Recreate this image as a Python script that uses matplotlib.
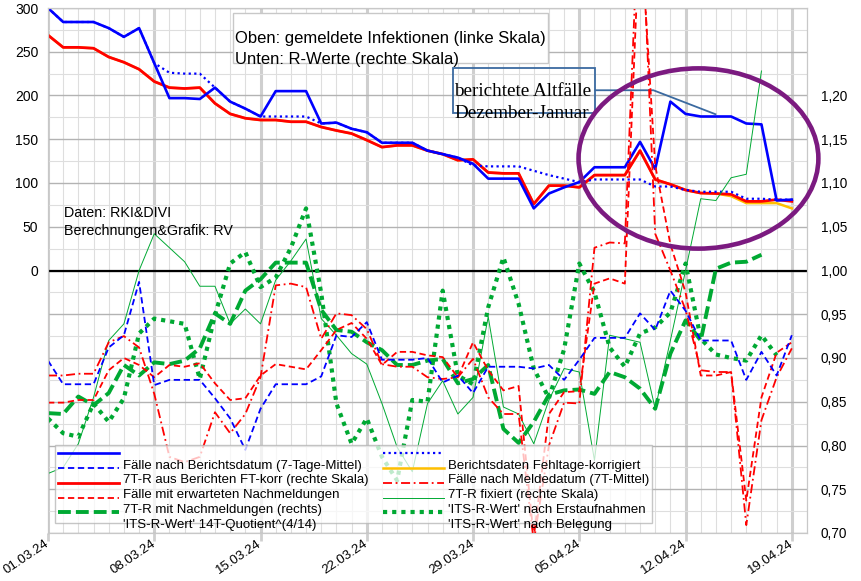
import numpy as np
import matplotlib
matplotlib.use("Agg")
import matplotlib.pyplot as plt
import matplotlib.transforms as mtransforms
from matplotlib.patches import Ellipse, Rectangle
from matplotlib.lines import Line2D
from matplotlib.ticker import MultipleLocator, FuncFormatter

plt.rcParams['font.family'] = ['Liberation Sans', 'DejaVu Sans']

# Tage ab 01.03.24
tage = np.arange(50)
datum_pos = [0, 7, 14, 21, 28, 35, 42, 49]
datum_txt = ['01.03.24', '08.03.24', '15.03.24', '22.03.24',
             '29.03.24', '05.04.24', '12.04.24', '19.04.24']

# Faelle (linke Skala)
faelle_bericht = [300, 284, 284, 284, 277, 267, 277, 237, 197, 197,
                  196, 209, 193, 185, 176, 205, 205, 205, 168, 169,
                  162, 158, 146, 146, 146, 137, 133, 129, 122, 105,
                  105, 105, 71, 88, 95, 101, 118, 118, 118, 147,
                  116, 193, 179, 176, 176, 176, 168, 167, 80, 81]
faelle_fehltage = [300, 284, 284, 284, 277, 267, 277, 237, 226, 225,
                   225, 209, 193, 185, 176, 176, 176, 176, 168, 169,
                   162, 158, 146, 146, 146, 137, 133, 129, 120, 119,
                   119, 119, 114, 109, 105, 101, 104, 104, 104, 104,
                   96, 96, 92, 90, 90, 90, 82, 82, 81, 81]
faelle_nachmeld = [269, 255, 255, 254, 244, 238, 230, 216, 209, 208,
                   209, 191, 179, 174, 172, 172, 170, 170, 164, 160,
                   156.5, 149, 141, 143, 143, 137, 133, 126, 127, 112,
                   111, 111, 76, 97, 97, 95, 109, 109, 109, 137,
                   104, 98.5, 92, 88.5, 88, 87, 79, 79, 81, 79]
faelle_melde = [269, 255, 255, 254, 244, 238, 230, 216, 209, 208,
                209, 191, 179, 174, 172, 172, 170, 170, 164, 160,
                156.5, 149, 141, 143, 143, 137, 133, 126, 127, 112,
                111, 111, 76, 97, 97, 95, 109, 109, 109, 137,
                104, 98.5, 92, 88.5, 88, 85, 77, 77, 77, 71]

# R-Werte (rechte Skala)
r_bericht = [0.897, 0.870, 0.870, 0.870, 0.912, 0.926, 0.987, 0.869, 0.875, 0.875,
             0.875, 0.854, 0.831, 0.795, 0.842, 0.870, 0.870, 0.870, 0.879, 0.926,
             0.924, 0.941, 0.898, 0.898, 0.898, 0.900, 0.872, 0.880, 0.860, 0.890,
             0.890, 0.890, 0.888, 0.892, 0.875, 0.898, 0.923, 0.923, 0.923, 0.951,
             0.932, 0.977, 0.954, 0.920, 0.920, 0.920, 0.875, 0.907, 0.880, 0.926]
r_nachmeld = [0.849, 0.849, 0.852, 0.852, 0.886, 0.900, 0.892, 0.878, 0.892, 0.890,
              0.894, 0.871, 0.852, 0.854, 0.880, 0.893, 0.890, 0.887, 0.909, 0.932,
              0.940, 0.922, 0.892, 0.907, 0.907, 0.903, 0.901, 0.878, 0.918, 0.886,
              0.863, 0.868, 0.695, 0.836, 0.861, 0.862, 0.985, 0.991, 0.985, 1.40,
              1.12, 1.03, 0.975, 0.880, 0.880, 0.884, 0.737, 0.855, 0.906, 0.918]
r_fixiert = [0.880, 0.880, 0.882, 0.882, 0.918, 0.925, 0.912, 0.859, 0.787, 0.781,
             0.787, 0.838, 0.814, 0.836, 0.878, 0.983, 0.985, 0.981, 0.922, 0.951,
             0.949, 0.933, 0.893, 0.890, 0.890, 0.878, 0.876, 0.878, 0.899, 0.855,
             0.836, 0.836, 0.690, 0.800, 0.849, 0.848, 1.026, 1.032, 1.031, 1.45,
             1.042, 1.00, 0.955, 0.886, 0.884, 0.884, 0.709, 0.829, 0.878, 0.911]
its_14t = [0.837, 0.836, 0.856, 0.846, 0.860, 0.892, 0.880, 0.895, 0.893, 0.897,
           0.911, 0.951, 0.939, 0.977, 0.990, 1.009, 1.009, 1.009, 0.955, 0.932,
           0.930, 0.918, 0.909, 0.892, 0.892, 0.897, 0.899, 0.871, 0.876, 0.892,
           0.819, 0.803, 0.827, 0.858, 0.863, 0.864, 0.859, 0.884, 0.878, 0.865,
           0.842, 0.905, 0.943, 0.920, 1.002, 1.009, 1.010, 1.018, np.nan, np.nan]
its_erst = [0.768, 0.775, 0.802, 0.855, 0.920, 0.939, 1.000, 1.042, 1.026, 1.010,
            0.982, 0.982, 0.939, 0.956, 0.939, 0.989, 1.011, 1.036, 0.945, 0.926,
            0.905, 0.893, 0.848, 0.798, 0.770, 0.848, 0.874, 0.836, 0.855, 0.947,
            0.844, 0.836, 0.802, 0.852, 0.888, 0.884, 0.783, 0.926, 0.922, 0.918,
            0.842, 0.920, 1.000, 1.082, 1.080, 1.106, 1.110, 1.228, np.nan, np.nan]
its_beleg = [0.831, 0.814, 0.810, 0.848, 0.827, 0.854, 0.928, 0.945, 0.942, 0.939,
             0.876, 0.949, 1.008, 1.021, 0.981, 0.992, 1.026, 1.071, 0.974, 0.848,
             0.802, 0.831, 0.787, 0.760, 0.852, 0.850, 0.977, 0.880, 0.870, 0.958,
             1.015, 0.962, 0.888, 0.854, 0.910, 1.008, 0.975, 0.912, 0.890, 0.928,
             0.935, 0.952, 1.008, 0.922, 0.904, 0.900, 0.897, 0.926, 0.903, np.nan]

blau = '#0000ff'
rot = '#ff0000'
gruen = '#00a933'
orange = '#ffbf00'

fig = plt.figure(figsize=(8.61, 5.81), dpi=100)
ax = fig.add_axes([48/861, 1-533/581, 759/861, 525/581])
ax2 = ax.twinx()

ax.set_xlim(0, 50)
ax.set_ylim(-300, 300)
ax2.set_ylim(0.70, 1.30)

# Gitter
ax.xaxis.set_major_locator(MultipleLocator(7))
ax.xaxis.set_minor_locator(MultipleLocator(1))
ax.yaxis.set_major_locator(MultipleLocator(50))
ax.yaxis.set_minor_locator(MultipleLocator(25))
ax.grid(which='major', axis='x', color='#cfcfcf', lw=2.2)
ax.grid(which='minor', axis='x', color='#dedede', lw=0.8)
ax.grid(which='major', axis='y', color='#b3b3b3', lw=1.0)
ax.grid(which='minor', axis='y', color='#dedede', lw=0.8)
ax.set_axisbelow(True)
ax.set_xticks(datum_pos)
ax.set_xticklabels(datum_txt, rotation=34, ha='right', va='center',
                   rotation_mode='anchor', fontsize=9.5)
ax.tick_params(axis='x', which='major', length=6, width=2, color='#cfcfcf', pad=1)
ax.tick_params(axis='x', which='minor', length=0)
ax.yaxis.set_major_formatter(FuncFormatter(lambda v, p: '%d' % v if v >= 0 else ''))
ax.tick_params(axis='y', which='both', length=0, labelsize=10, pad=7)

ax2.set_yticks(np.arange(0.70, 1.2001, 0.05))
ax2.yaxis.set_major_formatter(FuncFormatter(lambda v, p: ('%.2f' % v).replace('.', ',')))
ax2.tick_params(axis='y', length=0, labelsize=9.8, pad=10)
for a in (ax, ax2):
    for s in a.spines.values():
        s.set_color('#c8c8c8')
        s.set_linewidth(0.8)

ax.axhline(0, color='black', lw=1.6, zorder=1.5)

# Faelle
ax.plot(tage, faelle_melde, color=orange, lw=1.8)
ax.plot(tage, faelle_nachmeld, color=rot, lw=2.0)
ax.plot(tage, faelle_fehltage, color=blau, lw=1.6, ls=(0, (1, 1.5)))
ax.plot(tage, faelle_bericht, color=blau, lw=1.9)

# R-Werte
ax2.plot(tage, its_erst, color=gruen, lw=0.7)
ax2.plot(tage, its_beleg, color=gruen, lw=3.0, ls=(0, (1, 1.2)))
ax2.plot(tage, its_14t, color=gruen, lw=2.8, ls=(0, (3.3, 1.3)))
ax2.plot(tage, r_fixiert, color=rot, lw=1.3, ls=(0, (5, 2, 1, 2)))
ax2.plot(tage, r_nachmeld, color=rot, lw=1.3, ls=(0, (3.5, 2)))
ax2.plot(tage, r_bericht, color=blau, lw=1.3, ls=(0, (3.5, 2)))

# Anmerkungen
ax.add_patch(Rectangle(((233-48)/759, (533-63)/525), 315/759, 50/525, transform=ax.transAxes,
                       facecolor='white', edgecolor='#c8c8c8', lw=1, zorder=3))
ax2.text((235-48)/759, (533-39)/525, 'Oben: gemeldete Infektionen (linke Skala)', transform=ax.transAxes,
         fontsize=12, va='center', ha='left')
ax2.text((235-48)/759, (533-59)/525, 'Unten: R-Werte (rechte Skala)', transform=ax.transAxes,
         fontsize=12, va='center', ha='left')

ax2.add_patch(Rectangle(((453-48)/759, (533-113)/525), 142/759, 45/525, transform=ax.transAxes,
                        facecolor='none', edgecolor='#3b6aa0', lw=1.3))
ax2.text((454-48)/759, (533-92)/525, 'berichtete Altfälle', transform=ax.transAxes,
         fontsize=13.8, va='center', ha='left', family='Liberation Serif')
ax2.text((454-48)/759, (533-113)/525, 'Dezember-Januar', transform=ax.transAxes,
         fontsize=13.8, va='center', ha='left', family='Liberation Serif')
ax.plot([36.06, 39.88, 43.97], [206, 206, 178.6], color='#3b6aa0', lw=1.3, zorder=2.5)

ax2.add_patch(Ellipse((42.85, 128), 15.8, 206, transform=ax.transData, fill=False,
                      edgecolor='#7b1a80', lw=3.3, clip_on=False, zorder=5))

ax2.text((64-48)/759, (533-213)/525, 'Daten: RKI&DIVI', transform=ax.transAxes,
         fontsize=10.3, va='center', ha='left')
ax2.text((64-48)/759, (533-231)/525, 'Berechnungen&Grafik: RV', transform=ax.transAxes,
         fontsize=10.3, va='center', ha='left')

# Legende
griffe = [
    Line2D([], [], color=blau, lw=1.9),
    Line2D([], [], color=blau, lw=1.3, ls=(0, (3.5, 2))),
    Line2D([], [], color=rot, lw=2.0),
    Line2D([], [], color=rot, lw=1.3, ls=(0, (3.5, 2))),
    Line2D([], [], color=gruen, lw=2.8, ls=(0, (3.3, 1.3))),
    Line2D([], [], color=blau, lw=1.6, ls=(0, (1, 1.5))),
    Line2D([], [], color=orange, lw=1.8),
    Line2D([], [], color=rot, lw=1.3, ls=(0, (5, 2, 1, 2))),
    Line2D([], [], color=gruen, lw=0.7),
    Line2D([], [], color=gruen, lw=3.0, ls=(0, (1, 1.2))),
]
namen = [
    'Fälle nach Berichtsdatum (7-Tage-Mittel)',
    '7T-R aus Berichten FT-korr (rechte Skala)',
    'Fälle mit erwarteten Nachmeldungen',
    '7T-R mit Nachmeldungen (rechts)',
    "'ITS-R-Wert' 14T-Quotient^(4/14)",
    'Berichtsdaten Fehltage-korrigiert',
    'Fälle nach Meldedatum (7T-Mittel)',
    '7T-R fixiert (rechte Skala)',
    "'ITS-R-Wert' nach Erstaufnahmen",
    "'ITS-R-Wert' nach Belegung",
]
leg = ax2.legend(griffe, namen, ncol=2, loc='upper left',
                 bbox_to_anchor=((55-48)/759, (533-445)/525), borderaxespad=0,
                 fontsize=9.5, handlelength=4.6, handletextpad=0.3, columnspacing=1.1,
                 labelspacing=0.2, borderpad=0.25, fancybox=False, framealpha=0.75,
                 edgecolor='#b3b3b3')
leg.get_frame().set_linewidth(1.0)
versatz = mtransforms.ScaledTranslation(0, -11/100, fig.dpi_scale_trans)
for t in leg.get_texts():
    t.set_transform(t.get_transform() + versatz)

fig.savefig('out.png', dpi=100)
